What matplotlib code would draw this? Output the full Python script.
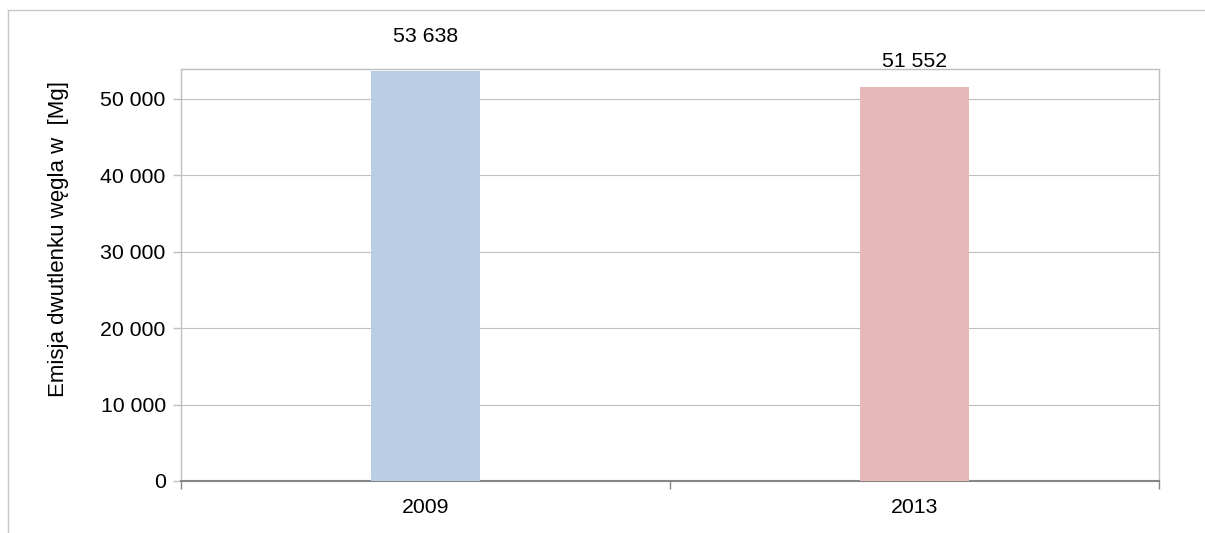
import matplotlib
matplotlib.use("Agg")
import matplotlib.pyplot as plt
from matplotlib.lines import Line2D
from matplotlib.ticker import FuncFormatter, FixedLocator

categories = ["2009", "2013"]
values = [53638, 51552]
colors = ["#B9CDE5", "#E6B9B8"]
label_offsets_px = [35, 25]
yticks = [0, 10000, 20000, 30000, 40000, 50000]

plt.rcParams['font.family'] = ['Liberation Sans', 'DejaVu Sans']

W, H = 1205, 533
FS = 15.3
fig = plt.figure(figsize=(W / 100, H / 100), dpi=100)
ax = fig.add_axes([181 / W, 1 - 481 / H, (1159 - 181) / W, (481 - 69) / H])

x = list(range(len(categories)))
bars = ax.bar(x, values, width=0.223, color=colors, zorder=3)

ax.set_xlim(-0.5, len(categories) - 0.5)
ax.set_ylim(0, 53900)

def fmt(v, pos=None):
    return f"{int(v):,}".replace(",", " ")

ax.yaxis.set_major_locator(FixedLocator(yticks))
ax.yaxis.set_major_formatter(FuncFormatter(fmt))
ax.grid(axis='y', color='#BFBFBF', linewidth=0.8, zorder=0)

ax.set_xticks(x)
ax.set_xticklabels(categories)
ax.set_xticks([i - 0.5 for i in range(len(categories) + 1)], minor=True)
ax.tick_params(axis='x', which='major', length=0, pad=12, labelsize=FS, colors='black')
ax.tick_params(axis='x', which='minor', length=6, width=1, color='#868686', direction='out')
ax.tick_params(axis='y', which='major', length=6, width=1, color='#BFBFBF', pad=5, labelsize=FS)

for side in ['top', 'right', 'left']:
    ax.spines[side].set_color('#BFBFBF')
    ax.spines[side].set_linewidth(1)
ax.spines['bottom'].set_color('#868686')
ax.spines['bottom'].set_linewidth(1.5)

ax.set_ylabel("Emisja dwutlenku węgla w  [Mg]", fontsize=16)
ax.yaxis.set_label_coords(-(181 - 69) / (1159 - 181), (481 - 239) / (481 - 69))

for xi, v, off in zip(x, values, label_offsets_px):
    ax.annotate(fmt(v), xy=(xi, v), xytext=(0, off * 0.72), textcoords='offset points',
                ha='center', va='center', fontsize=FS, annotation_clip=False)

fig.add_artist(Line2D([8 / W, 1], [1 - 10 / H, 1 - 10 / H], color='#C8C8C8', linewidth=1, transform=fig.transFigure))
fig.add_artist(Line2D([8 / W, 8 / W], [0, 1 - 10 / H], color='#C8C8C8', linewidth=1, transform=fig.transFigure))

fig.savefig("out.png", dpi=100)
